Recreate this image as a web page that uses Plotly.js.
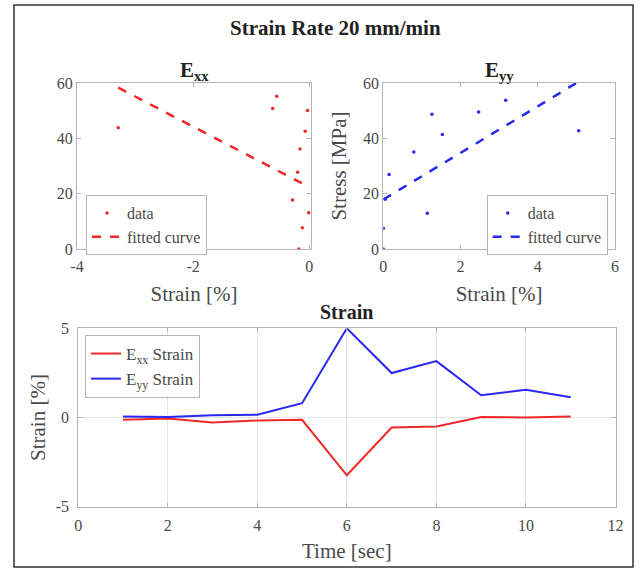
<!DOCTYPE html>
<html>
<head>
<meta charset="utf-8">
<script src="https://cdn.plot.ly/plotly-3.0.1.min.js"></script>
<style>html,body{margin:0;padding:0;background:#fff;}#chart{width:640px;height:577px;}</style>
</head>
<body>
<div id="chart"></div>
<script>
// Exx scatter data (strain %, stress MPa)
const exxStrain = [-3.29, -0.63, -0.56, -0.03, -0.07, -0.16, -0.20, -0.29, -0.01, -0.12, -0.18];
const exxStress = [43.8, 50.8, 55.2, 50.1, 42.6, 36.1, 27.7, 17.7, 13.1, 7.7, 0.0];
// Exx fitted line end points
const exxFitX = [-3.29, -0.01];
const exxFitY = [58.3, 22.5];

// Eyy scatter data
const eyyStrain = [5.06, 2.47, 3.17, 1.26, 1.53, 0.79, 0.15, 0.05, 1.14, 0.00, 0.00];
const eyyStress = [42.7, 49.5, 53.8, 48.7, 41.4, 35.1, 26.9, 18.0, 12.9, 7.5, 0.0];
const eyyFitX = [0.0, 5.06];
const eyyFitY = [17.9, 60.5];

// Strain vs time
const time = [1, 2, 3, 4, 5, 6, 7, 8, 9, 10, 11];
const exxTime = [-0.13, -0.06, -0.28, -0.17, -0.13, -3.24, -0.56, -0.50, 0.03, 0.00, 0.05];
const eyyTime = [0.06, 0.03, 0.13, 0.15, 0.80, 5.00, 2.49, 3.16, 1.25, 1.55, 1.14];

// Tick labels
const exxTicks = [-4, -2, 0];
const exxTickText = ['-4', '-2', '0'];
const stressTicks = [0, 20, 40, 60];
const eyyTicks = [0, 2, 4, 6];
const timeTicks = [0, 2, 4, 6, 8, 10, 12];
const strainTicks = [-5, 0, 5];
const strainTickText = ['-5', '0', '5'];

const RED = 'rgb(240,40,40)';
const BLUE = 'rgb(40,40,240)';
const W = 640, H = 577;
const px = v => v / W;
const py = v => 1 - v / H;

const FONT = 'Liberation Serif, Times New Roman, serif';
const TXT = '#4a4a4a';
const TITLE_FONT = {family: FONT, size: 21, color: TXT};

const traces = [
  {x: exxStrain, y: exxStress, type: 'scatter', mode: 'markers', name: 'data',
   marker: {color: RED, size: 3.5}, xaxis: 'x', yaxis: 'y', legend: 'legend'},
  {x: exxFitX, y: exxFitY, type: 'scatter', mode: 'lines', name: 'fitted curve',
   line: {color: RED, width: 2.5, dash: 'dash'}, xaxis: 'x', yaxis: 'y', legend: 'legend'},
  {x: eyyStrain, y: eyyStress, type: 'scatter', mode: 'markers', name: 'data',
   marker: {color: BLUE, size: 3.5}, xaxis: 'x2', yaxis: 'y2', legend: 'legend2'},
  {x: eyyFitX, y: eyyFitY, type: 'scatter', mode: 'lines', name: 'fitted curve',
   line: {color: BLUE, width: 2.5, dash: 'dash'}, xaxis: 'x2', yaxis: 'y2', legend: 'legend2'},
  {x: time, y: exxTime, type: 'scatter', mode: 'lines', name: 'E<sub>xx</sub> Strain',
   line: {color: RED, width: 2}, xaxis: 'x3', yaxis: 'y3', legend: 'legend3'},
  {x: time, y: eyyTime, type: 'scatter', mode: 'lines', name: 'E<sub>yy</sub> Strain',
   line: {color: BLUE, width: 2}, xaxis: 'x3', yaxis: 'y3', legend: 'legend3'}
];

function ax(extra) {
  return Object.assign({
    showline: true, linecolor: '#b4b4b4', linewidth: 1, mirror: 'ticks',
    ticks: 'inside', ticklen: 4, tickcolor: '#b4b4b4',
    showgrid: false, zeroline: false, automargin: false,
    tickfont: {family: FONT, size: 16, color: TXT}
  }, extra);
}

const legendBase = {
  bgcolor: '#fff', bordercolor: '#b4b4b4', borderwidth: 1,
  font: {family: FONT, size: 16, color: TXT},
  xanchor: 'left', yanchor: 'top', tracegroupgap: 0, itemwidth: 30
};

const layout = {
  width: W, height: H,
  margin: {l: 0, r: 0, t: 0, b: 0},
  paper_bgcolor: '#fff', plot_bgcolor: '#fff',
  showlegend: true,
  xaxis: ax({domain: [px(77), px(311)], range: [-4, 0.03], tickvals: exxTicks, ticktext: exxTickText, anchor: 'y',
    ticklabelstandoff: 3,
    title: {text: 'Strain [%]', standoff: 12, font: TITLE_FONT}}),
  yaxis: ax({domain: [py(249), py(83)], range: [0, 60], tickvals: stressTicks, anchor: 'x'}),
  xaxis2: ax({domain: [px(383.3), px(615)], range: [0, 6], tickvals: eyyTicks, anchor: 'y2',
    ticklabelstandoff: 3,
    title: {text: 'Strain [%]', standoff: 12, font: TITLE_FONT}}),
  yaxis2: ax({domain: [py(249), py(83)], range: [0, 60], tickvals: stressTicks, anchor: 'x2',
    title: {text: 'Stress [MPa]', standoff: 10, font: TITLE_FONT}}),
  xaxis3: ax({domain: [px(78.2), px(615.5)], range: [0, 12], tickvals: timeTicks, anchor: 'y3',
    showgrid: true, gridcolor: '#e4e4e4', ticklabelstandoff: 4,
    title: {text: 'Time [sec]', standoff: 10, font: TITLE_FONT}}),
  yaxis3: ax({domain: [py(506.7), py(328.3)], range: [-5, 5], tickvals: strainTicks, ticktext: strainTickText, anchor: 'x3',
    showgrid: true, gridcolor: '#e4e4e4', ticklabelstandoff: 5,
    title: {text: 'Strain [%]', standoff: 4, font: TITLE_FONT}}),
  legend: Object.assign({}, legendBase, {x: px(86), y: py(195)}),
  legend2: Object.assign({}, legendBase, {x: px(486.7), y: py(195)}),
  legend3: Object.assign({}, legendBase, {x: px(85), y: py(335), font: {family: FONT, size: 17, color: TXT}}),
  annotations: [
    {text: '<b>Strain Rate 20 mm/min</b>', xref: 'paper', yref: 'paper', x: px(335), y: py(28),
     xanchor: 'center', yanchor: 'middle', showarrow: false, font: {family: FONT, size: 21, color: '#222'}},
    {text: '<b>E<sub>xx</sub></b>', xref: 'paper', yref: 'paper', x: px(194), y: py(71),
     xanchor: 'center', yanchor: 'middle', showarrow: false, font: {family: FONT, size: 21, color: '#222'}},
    {text: '<b>E<sub>yy</sub></b>', xref: 'paper', yref: 'paper', x: px(499), y: py(71),
     xanchor: 'center', yanchor: 'middle', showarrow: false, font: {family: FONT, size: 21, color: '#222'}},
    {text: '<b>Strain</b>', xref: 'paper', yref: 'paper', x: px(346), y: py(312),
     xanchor: 'center', yanchor: 'middle', showarrow: false, font: {family: FONT, size: 20, color: '#222'}}
  ],
  shapes: [
    {type: 'rect', xref: 'paper', yref: 'paper', x0: px(14), x1: px(633), y0: py(567), y1: py(5),
     line: {color: '#333', width: 1.5}, fillcolor: 'rgba(0,0,0,0)'}
  ]
};

Plotly.newPlot('chart', traces, layout, {staticPlot: true, displayModeBar: false});
</script>
</body>
</html>
